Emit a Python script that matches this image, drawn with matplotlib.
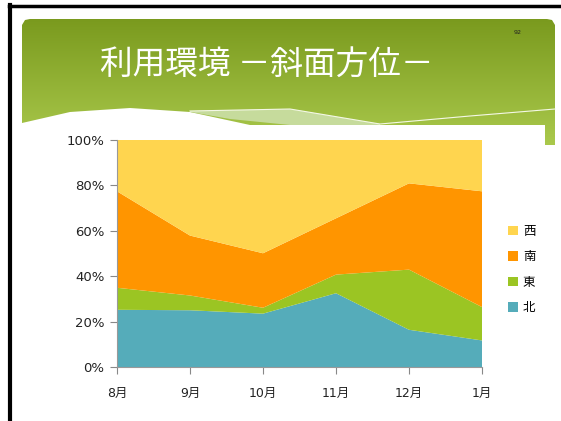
import numpy as np
import matplotlib.pyplot as plt
from matplotlib.patches import Polygon

plt.rcParams['font.family'] = ['DejaVu Sans', 'Noto Sans CJK JP']

months = ['8月', '9月', '10月', '11月', '12月', '1月']
series_names = ['北', '東', '南', '西']
kita = [25.2, 25.0, 23.5, 32.5, 16.4, 11.7]
higashi = [9.7, 6.5, 2.6, 8.2, 26.5, 14.7]
minami = [42.5, 26.4, 24.0, 24.8, 38.0, 51.0]
nishi = [22.6, 42.1, 49.9, 34.5, 19.1, 22.6]
colors = ['#55acba', '#9bc523', '#ff9500', '#ffd54f']

W, H = 561, 421
fig = plt.figure(figsize=(W / 100, H / 100), dpi=100)

# slide background, drawn in pixel coords
bg = fig.add_axes([0, 0, 1, 1])
bg.set_xlim(0, W)
bg.set_ylim(H, 0)
bg.axis('off')

header = Polygon([(22, 25), (25, 20), (30, 19), (547, 19), (552, 20), (555, 25),
                  (555, 145), (545, 145), (545, 125),
                  (250, 125), (190, 112), (130, 108), (70, 112), (22, 123)],
                 closed=True, facecolor='none', edgecolor='none')
bg.add_patch(header)
grad = np.linspace(0, 1, 256).reshape(-1, 1)
top_c = np.array([0x7a, 0x9a, 0x1e]) / 255
bot_c = np.array([0xaa, 0xc9, 0x4c]) / 255
img = top_c + (bot_c - top_c) * grad[:, :, None]
im = bg.imshow(img, extent=(22, 555, 145, 19), aspect='auto', zorder=1)
im.set_clip_path(header)

swoosh = Polygon([(190, 111), (240, 110), (290, 109), (380, 124), (380, 125),
                  (290, 125), (230, 119), (190, 112)],
                 closed=True, facecolor='#c6db9c', edgecolor='none', zorder=2)
bg.add_patch(swoosh)
bg.plot([190, 240, 290, 380, 470, 555], [111, 110, 109, 124, 116, 109],
        color='#f4f8e6', lw=0.8, zorder=3)

# black frame lines
bg.plot([9, W], [6, 6], color='black', lw=2.5, zorder=4)
bg.plot([10.5, 10.5], [5, H], color='black', lw=3, zorder=4)

bg.text(267, 65, '利用環境 －斜面方位－', color='white', fontsize=23.5,
        family=['Noto Sans CJK JP'], ha='center', va='center', zorder=5)
bg.text(518, 32, '92', color='#222222', fontsize=4.5, ha='center', va='center', zorder=5)

# chart
ax = fig.add_axes([117 / W, 1 - 367 / H, 365 / W, 227 / H])
data = np.array([kita, higashi, minami, nishi])
data = data / data.sum(axis=0) * 100
x = np.arange(len(months))
ax.stackplot(x, data, colors=colors, labels=series_names, linewidth=0)
ax.set_xlim(0, len(months) - 1)
ax.set_ylim(0, 100)
ax.set_xticks(x)
ax.set_xticklabels(months)
ax.set_yticks(np.arange(0, 101, 20))
ax.set_yticklabels([f'{v}%' for v in range(0, 101, 20)])
ax.tick_params(colors='#888888', labelcolor='#222222', labelsize=9.5, length=5, width=0.8)
ax.tick_params(axis='x', pad=9, labelsize=9)
ax.tick_params(axis='y', pad=4)
for s in ['top', 'right']:
    ax.spines[s].set_visible(False)
for s in ['left', 'bottom']:
    ax.spines[s].set_color('#999999')
    ax.spines[s].set_linewidth(0.8)

handles, labels = ax.get_legend_handles_labels()
ax.legend(handles[::-1], labels[::-1], loc='center left', bbox_to_anchor=(1.04, 0.43),
          frameon=False, handlelength=0.8, handleheight=0.8,
          handletextpad=0.4, labelspacing=1.0, prop={'family': ['Noto Sans CJK JP'], 'size': 9})

fig.savefig('out.png', dpi=100)
